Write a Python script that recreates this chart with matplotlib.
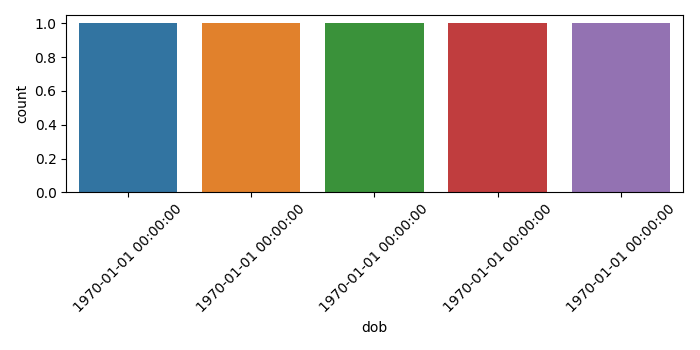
import matplotlib
matplotlib.use("Agg")
import matplotlib.pyplot as plt

# one row per date of birth, all at the epoch
dob_labels = ["1970-01-01 00:00:00"] * 5
counts = [1, 1, 1, 1, 1]
colors = ["#3274a1", "#e1812c", "#3a923a", "#c03d3e", "#9372b2"]

fig, ax = plt.subplots(figsize=(7, 3.5), dpi=100)
pos = list(range(len(counts)))
ax.bar(pos, counts, width=0.8, color=colors)
ax.set_xlim(-0.5, len(counts) - 0.5)
ax.set_xticks(pos)
ax.set_xticklabels(dob_labels, rotation=45)
ax.set_xlabel("dob")
ax.set_ylabel("count")
plt.tight_layout()
plt.savefig("out.png")
